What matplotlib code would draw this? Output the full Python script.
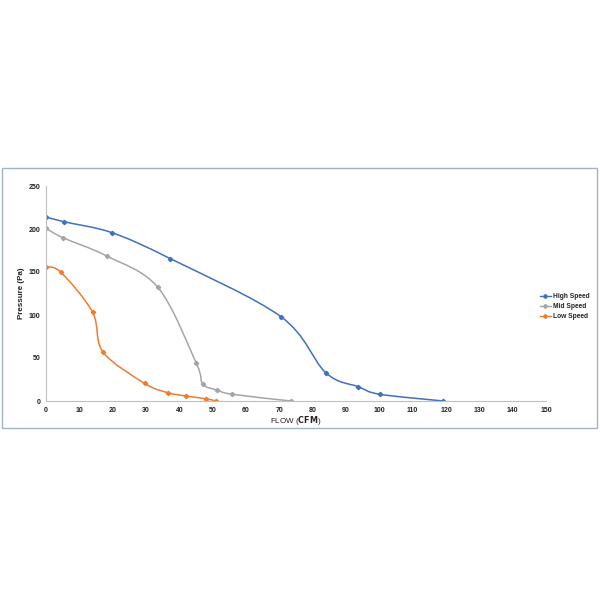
import matplotlib

matplotlib.use("Agg")
import matplotlib.pyplot as plt
import numpy as np
from matplotlib.lines import Line2D
from matplotlib.patches import PathPatch, Rectangle
from matplotlib.path import Path

plt.rcParams["font.family"] = ["Liberation Sans", "DejaVu Sans"]

# Fan curves: flow (CFM) vs static pressure (Pa)
high_flow = [0, 5.3, 19.8, 37.3, 70.5, 83.9, 93.7, 100.2, 119.2]
high_pres = [214, 208.5, 195.7, 165.5, 98, 33, 16.6, 7.8, 0]

mid_flow = [0, 5, 18.2, 33.6, 45.1, 47, 51.3, 55.9, 73.5]
mid_pres = [200.8, 190, 168.6, 132, 43.8, 19.8, 12.8, 7.8, 0]

low_flow = [0, 4.5, 14, 17.1, 29.6, 36.5, 42, 47.9, 51]
low_pres = [156, 149.6, 103, 57, 20.5, 9.7, 5.8, 2.7, 0]

SERIES = [
    ("High Speed", high_flow, high_pres, "#4170BE"),
    ("Mid Speed", mid_flow, mid_pres, "#A5A5A5"),
    ("Low Speed", low_flow, low_pres, "#ED7D31"),
]


def smooth_path(xs, ys):
    """Excel-style smoothed line: Catmull-Rom turned into cubic Beziers."""
    p = np.column_stack([xs, ys]).astype(float)
    verts = [p[0]]
    codes = [Path.MOVETO]
    n = len(p)
    for i in range(n - 1):
        p0 = p[i - 1] if i > 0 else p[i]
        p1, p2 = p[i], p[i + 1]
        p3 = p[i + 2] if i + 2 < n else p[i + 1]
        c1 = p1 + (p2 - p0) / 6.0
        c2 = p2 - (p3 - p1) / 6.0
        verts += [c1, c2, p2]
        codes += [Path.CURVE4] * 3
    return Path(verts, codes)


fig = plt.figure(figsize=(6, 6), dpi=100)

# light frame around the chart area
fig.patches.append(Rectangle((2 / 600, 172 / 600), 595 / 600, 260 / 600,
                             transform=fig.transFigure, fill=False,
                             edgecolor="#9FB3C8", linewidth=1.0))

ax = fig.add_axes([46 / 600, 199 / 600, 500 / 600, 215 / 600])

for name, xs, ys, color in SERIES:
    ax.add_patch(PathPatch(smooth_path(xs, ys), facecolor="none",
                           edgecolor=color, linewidth=1.1))
    ax.plot(xs, ys, linestyle="none", marker="D", markersize=2.2,
            color=color)

ax.set_xlim(0, 150)
ax.set_ylim(0, 250)
ax.set_xticks(np.arange(0, 151, 10))
ax.set_yticks(np.arange(0, 251, 50))
ax.tick_params(length=0, labelsize=5, labelcolor="#222222", pad=4)
for lab in ax.get_xticklabels() + ax.get_yticklabels():
    lab.set_fontweight("bold")

for side in ("top", "right"):
    ax.spines[side].set_visible(False)
for side in ("left", "bottom"):
    ax.spines[side].set_color("#BFBFBF")
    ax.spines[side].set_linewidth(0.8)

ax.set_ylabel("Pressure (Pa)", fontsize=5.8, fontweight="bold",
              color="#222222", labelpad=3)
ax.set_xlabel(r"FLOW ($\mathbf{CFM}$)", fontsize=5.8, color="#222222",
              labelpad=0)

handles = [Line2D([0], [0], color=c, marker="D", markersize=2.0,
                  linewidth=1.0) for _, _, _, c in SERIES]
leg = fig.legend(handles, [s[0] for s in SERIES], loc="center left",
                 bbox_to_anchor=(534 / 600, 293 / 600), frameon=False,
                 fontsize=4.8, handlelength=1.6, handletextpad=0.3,
                 labelspacing=0.45)
for t in leg.get_texts():
    t.set_fontweight("bold")
    t.set_color("#222222")

fig.savefig("out.png", dpi=100, facecolor="white")
